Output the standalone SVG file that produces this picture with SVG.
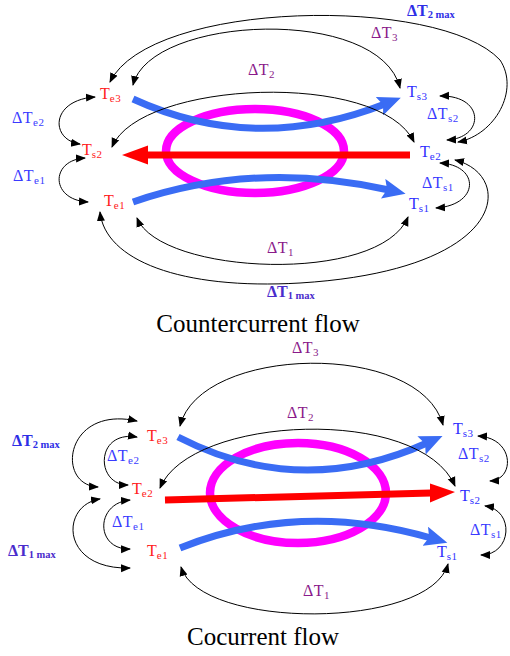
<svg xmlns="http://www.w3.org/2000/svg" width="510" height="656" viewBox="0 0 510 656">
<defs>
<marker id="ah" markerUnits="userSpaceOnUse" markerWidth="10" markerHeight="10" viewBox="0 0 10 10" refX="9" refY="5" orient="auto-start-reverse">
<path d="M0,1 L10,5 L0,9 z" fill="#000"/>
</marker>
<marker id="bh" markerUnits="userSpaceOnUse" markerWidth="24" markerHeight="20" viewBox="0 0 24 20" refX="6" refY="10" orient="auto">
<path d="M0,0 L23,10 L0,20 L4,10 z" fill="#3a6cf4"/>
</marker>
</defs>
<style>
.c{fill:none;stroke:#000;stroke-width:1;}
.ring{fill:none;stroke:#ff00ff;stroke-width:8.5;}
.blue{fill:none;stroke:#3a6cf4;stroke-width:7;}
.red{fill:none;stroke:#ff0000;stroke-width:7;}
text{font-family:"Liberation Serif","Times New Roman",serif;}
.lr{fill:#ff2020;font-size:16px;}
.lb{fill:#3030ff;font-size:16px;}
.dp{fill:#8a1a8a;font-size:16px;letter-spacing:0.5px;}
.db{fill:#3a3aff;font-size:16px;letter-spacing:0.5px;}
.dm{fill:#2e2ee6;font-size:16px;font-weight:bold;}
.dm1{fill:#4a2ccc;font-size:16px;font-weight:bold;}
.s{font-size:11px;letter-spacing:0.5px;}
.sm{font-size:10.5px;}
.title{font-size:25px;fill:#000;}
</style>

<!-- ===== Countercurrent flow ===== -->
<g id="cc-shapes">
<ellipse class="ring" cx="255" cy="151" rx="89" ry="42"/>
<path class="red" d="M410,155 L145,155"/>
<polygon points="148,145.5 122,155 148,164.5" fill="#ff0000"/>
<path class="blue" d="M133,99 Q255,155 385,104" marker-end="url(#bh)"/>
<path class="blue" d="M133,202 Q255,160 389,190" marker-end="url(#bh)"/>
</g>

<g id="cc-connectors">
<path class="c" d="M110,82 C150,0 440,-5 500,60 C520,90 495,135 458,142" marker-start="url(#ah)" marker-end="url(#ah)"/>
<path class="c" d="M133,85 C150,15 380,5 400,88" marker-start="url(#ah)" marker-end="url(#ah)"/>
<path class="c" d="M112,147 C140,80 380,70 414,142" marker-start="url(#ah)" marker-end="url(#ah)"/>
<path class="c" d="M95,97 C50,100 50,140 80,144" marker-start="url(#ah)" marker-end="url(#ah)"/>
<path class="c" d="M85,158 C50,160 50,200 88,202" marker-start="url(#ah)" marker-end="url(#ah)"/>
<path class="c" d="M440,96 C485,95 485,138 447,140" marker-start="url(#ah)" marker-end="url(#ah)"/>
<path class="c" d="M440,163 C480,165 480,205 436,208" marker-start="url(#ah)" marker-end="url(#ah)"/>
<path class="c" d="M455,160 C515,175 510,270 300,283 C180,290 105,260 100,212" marker-start="url(#ah)" marker-end="url(#ah)"/>
<path class="c" d="M137,218 C160,275 380,285 408,217" marker-start="url(#ah)" marker-end="url(#ah)"/>
</g>

<g id="cc-Te3"><text class="lr" x="100" y="99">T<tspan class="s" dy="2.5">e3</tspan></text></g>
<g id="cc-Ts2"><text class="lr" x="82" y="155">T<tspan class="s" dy="2.5">s2</tspan></text></g>
<g id="cc-Te1"><text class="lr" x="104" y="206">T<tspan class="s" dy="2.5">e1</tspan></text></g>
<g id="cc-Ts3"><text class="lb" x="407" y="97">T<tspan class="s" dy="2.5">s3</tspan></text></g>
<g id="cc-Te2"><text class="lb" x="420" y="157">T<tspan class="s" dy="2.5">e2</tspan></text></g>
<g id="cc-Ts1"><text class="lb" x="409" y="209">T<tspan class="s" dy="2.5">s1</tspan></text></g>

<g id="cc-dTe2"><text class="db" x="12" y="123">ΔT<tspan class="s" dy="2.5">e2</tspan></text></g>
<g id="cc-dTe1"><text class="db" x="13" y="181">ΔT<tspan class="s" dy="2.5">e1</tspan></text></g>
<g id="cc-dT2max"><text class="dm" x="407" y="16">ΔT<tspan class="sm" dy="2">2 max</tspan></text></g>
<g id="cc-dT3"><text class="dp" x="371" y="38">ΔT<tspan class="s" dy="2.5">3</tspan></text></g>
<g id="cc-dT2"><text class="dp" x="248" y="75">ΔT<tspan class="s" dy="2.5">2</tspan></text></g>
<g id="cc-dTs2"><text class="db" x="427" y="119">ΔT<tspan class="s" dy="2.5">s2</tspan></text></g>
<g id="cc-dTs1"><text class="db" x="422" y="188">ΔT<tspan class="s" dy="2.5">s1</tspan></text></g>
<g id="cc-dT1"><text class="dp" x="267" y="253">ΔT<tspan class="s" dy="2.5">1</tspan></text></g>
<g id="cc-dT1max"><text class="dm1" x="267" y="297">ΔT<tspan class="sm" dy="2">1 max</tspan></text></g>
<g id="cc-title"><text class="title" x="258" y="332" text-anchor="middle">Countercurrent flow</text></g>

<!-- ===== Cocurrent flow ===== -->
<g id="co-shapes">
<ellipse class="ring" cx="298" cy="493" rx="88" ry="50"/>
<path class="red" d="M165,500 L431,493"/>
<polygon points="430,483.5 455,492 430,502.5" fill="#ff0000"/>
<path class="blue" d="M178,437 Q300,500 427,443" marker-end="url(#bh)"/>
<path class="blue" d="M180,548 Q300,500 431,538" marker-end="url(#bh)"/>
</g>

<g id="co-connectors">
<path class="c" d="M180,426 C200,345 420,340 443,425" marker-start="url(#ah)" marker-end="url(#ah)"/>
<path class="c" d="M160,488 C190,415 420,405 455,486" marker-start="url(#ah)" marker-end="url(#ah)"/>
<path class="c" d="M137,437 C95,430 95,485 128,485" marker-start="url(#ah)" marker-end="url(#ah)"/>
<path class="c" d="M137,421 C65,405 55,485 98,487" marker-start="url(#ah)" marker-end="url(#ah)"/>
<path class="c" d="M130,500 C95,503 95,550 130,549" marker-start="url(#ah)" marker-end="url(#ah)"/>
<path class="c" d="M100,499 C60,505 60,570 130,568" marker-start="url(#ah)" marker-end="url(#ah)"/>
<path class="c" d="M478,436 C515,438 515,480 490,481" marker-start="url(#ah)" marker-end="url(#ah)"/>
<path class="c" d="M485,506 C515,510 512,555 481,555" marker-start="url(#ah)" marker-end="url(#ah)"/>
<path class="c" d="M181,567 C200,630 430,630 448,564" marker-start="url(#ah)" marker-end="url(#ah)"/>
</g>

<g id="co-Te3"><text class="lr" x="147" y="441">T<tspan class="s" dy="2.5">e3</tspan></text></g>
<g id="co-Te2"><text class="lr" x="132" y="494">T<tspan class="s" dy="2.5">e2</tspan></text></g>
<g id="co-Te1"><text class="lr" x="147" y="556">T<tspan class="s" dy="2.5">e1</tspan></text></g>
<g id="co-Ts3"><text class="lb" x="453" y="434">T<tspan class="s" dy="2.5">s3</tspan></text></g>
<g id="co-Ts2"><text class="lb" x="460" y="501">T<tspan class="s" dy="2.5">s2</tspan></text></g>
<g id="co-Ts1"><text class="lb" x="437" y="557">T<tspan class="s" dy="2.5">s1</tspan></text></g>

<g id="co-dT3"><text class="dp" x="292" y="353">ΔT<tspan class="s" dy="2.5">3</tspan></text></g>
<g id="co-dT2"><text class="dp" x="287" y="418">ΔT<tspan class="s" dy="2.5">2</tspan></text></g>
<g id="co-dT2max"><text class="dm" x="12" y="446">ΔT<tspan class="sm" dy="2">2 max</tspan></text></g>
<g id="co-dTe2"><text class="db" x="107" y="461">ΔT<tspan class="s" dy="2.5">e2</tspan></text></g>
<g id="co-dTe1"><text class="db" x="112" y="527">ΔT<tspan class="s" dy="2.5">e1</tspan></text></g>
<g id="co-dT1max"><text class="dm1" x="8" y="556">ΔT<tspan class="sm" dy="2">1 max</tspan></text></g>
<g id="co-dTs2"><text class="db" x="458" y="459">ΔT<tspan class="s" dy="2.5">s2</tspan></text></g>
<g id="co-dTs1"><text class="db" x="470" y="535">ΔT<tspan class="s" dy="2.5">s1</tspan></text></g>
<g id="co-dT1"><text class="dp" x="303" y="596">ΔT<tspan class="s" dy="2.5">1</tspan></text></g>
<g id="co-title"><text class="title" x="263" y="645" text-anchor="middle">Cocurrent flow</text></g>
</svg>
